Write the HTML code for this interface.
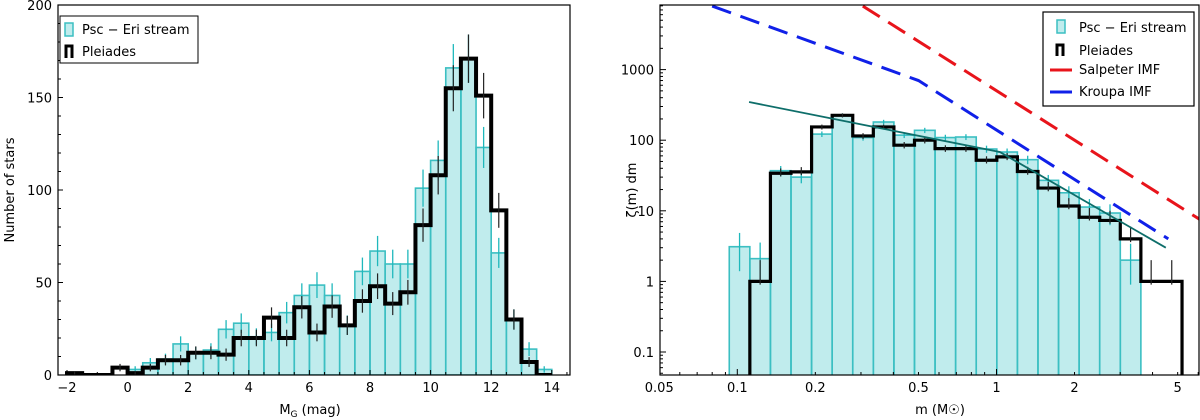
<!DOCTYPE html>
<html><head><meta charset="utf-8"><style>
html,body{margin:0;padding:0;background:#fff;width:1200px;height:420px;overflow:hidden}
svg text{font-family:"DejaVu Sans","Liberation Sans",sans-serif;fill:#000}
</style></head><body>
<svg id="c" width="1200" height="420" viewBox="0 0 1200 420" xmlns="http://www.w3.org/2000/svg">
<defs>
<clipPath id="clipL"><rect x="58" y="5" width="512" height="370"/></clipPath>
<clipPath id="clipR"><rect x="660" y="5" width="539" height="370"/></clipPath>
</defs>
<g id="left"></g>
<g id="right"></g>
</svg>
<script>
// ---- Left panel data ----
const magEdgesStart = -2, magBinWidth = 0.5;
const streamCounts = [0,0,0,0,3,6.6,8.6,16.8,11.8,13.5,24.7,28,20.7,23,33.7,43,48.6,43,27,56,67,60,60,101,116,166,171,123,66,30,14,3];
const streamStart = -2; // first stream bin edge (mag)
const pleiadesCounts = [1,0,0,4,1,4,8,8,12,12,11,20,20,31,20,36.6,23,37,26.8,40,48,38.6,44.7,81,108,155,171,151,89,30,7,0];
const pleiadesStart = -2;
const leftYTicks = [0,50,100,150,200];
const leftXTicks = [-2,0,2,4,6,8,10,12,14];

// ---- Right panel data ----
const massLogEdge0 = -1.031, massLogStep = 0.0794;
const streamZeta = [3.1,2.1,37,30,122,225,109,181,118,138,109,111,75,68,53,27,18,11.3,9.3,2.0];
const pleiadesZeta = [1.0,34,35.6,154,225,115,154,85,100,76,76,52,58,36,21,11.7,8.1,7.3,4.0,1.0,1.0]; // bins 1..21
const salpeterM = [0.305,6.1], salpeterV = [7940,7.5];
const kroupaM = [0.08,0.5,4.6], kroupaV = [7940,700,4.0];
const fitM = [0.111,1.03,4.5], fitV = [347,68,3.0];
const rightYTicks = [0.1,1,10,100,1000];
const rightXTicks = [0.05,0.1,0.2,0.5,1,2,5];

const NS="http://www.w3.org/2000/svg";
function mk(tag,attrs,parent){const e=document.createElementNS(NS,tag);for(const k in attrs)e.setAttribute(k,attrs[k]);parent.appendChild(e);return e;}
const CY="#3bbfc2", CYF="rgba(60,195,198,0.32)";

// ===== LEFT =====
const L=document.getElementById('left');
const lx=v=>127.6+v*30.3, ly=v=>375-v*1.85;
const lg=mk('g',{'clip-path':'url(#clipL)'},L);
streamCounts.forEach((v,i)=>{
  const x0=streamStart+i*magBinWidth; if(v<=0)return;
  const r=mk('rect',{x:lx(x0),y:ly(v),width:lx(x0+magBinWidth)-lx(x0),height:ly(0)-ly(v),fill:CYF,stroke:CY,'stroke-width':1.6},lg);
  
  
  const e=Math.sqrt(v), xc=lx(x0+magBinWidth/2);
  const l=mk('line',{x1:xc,x2:xc,y1:ly(v+e),y2:ly(Math.max(0,v-e)),stroke:'#1fb8bc','stroke-width':1.3},lg);
  
  
});
let d='';
pleiadesCounts.forEach((v,i)=>{
  const x0=pleiadesStart+i*magBinWidth, x1=x0+magBinWidth;
  d+=(i===0?`M${lx(x0)},${ly(0)} `:'')+`L${lx(x0)},${ly(v)} L${lx(x1)},${ly(v)} `;
});
d+=`L${lx(pleiadesStart+pleiadesCounts.length*magBinWidth)},${ly(0)}`;
const pstep=mk('path',{d:d,fill:'none',stroke:'#000','stroke-width':4,'stroke-linejoin':'miter'},lg);


pleiadesCounts.forEach((v,i)=>{
  if(v<=0)return; const xc=lx(pleiadesStart+(i+0.5)*magBinWidth), e=Math.sqrt(v);
  const l=mk('line',{x1:xc,x2:xc,y1:ly(v+e),y2:ly(Math.max(0,v-e)),stroke:'#222','stroke-width':1.2},lg);
  
  
});
mk('rect',{x:58,y:5,width:512,height:370,fill:'none',stroke:'#000','stroke-width':1.2},L);
leftYTicks.forEach(t=>{
  mk('line',{x1:58,x2:63,y1:ly(t),y2:ly(t),stroke:'#000'},L);
  const tx=mk('text',{x:52,y:ly(t)+5,'text-anchor':'end','font-size':13},L);tx.textContent=t;
  
  
});
for(let t=10;t<200;t+=10){if(t%50)mk('line',{x1:58,x2:61,y1:ly(t),y2:ly(t),stroke:'#000'},L);}
for(let t=-2;t<=14.5;t+=0.5){mk('line',{x1:lx(t),x2:lx(t),y1:375,y2:Number.isInteger(t/2)?370:372,stroke:'#000'},L);}
leftXTicks.forEach(t=>{
  const tx=mk('text',{x:lx(t),y:392,'text-anchor':'middle','font-size':13},L);tx.textContent=t<0?'−'+(-t):t;
  
  
});
let t1=mk('text',{x:310,y:414,'text-anchor':'middle','font-size':13},L);t1.innerHTML='M<tspan font-size="9" dy="3">G</tspan><tspan dy="-3"> (mag)</tspan>';

let t2=mk('text',{x:0,y:0,'text-anchor':'middle','font-size':13,transform:'translate(14,190) rotate(-90)'},L);t2.textContent='Number of stars';

// legend left
const LL=mk('g',{},L);
mk('rect',{x:60,y:16,width:138,height:47,fill:'#fff',stroke:'#000','stroke-width':1},LL);
mk('rect',{x:65,y:23,width:8,height:13,fill:CYF,stroke:CY,'stroke-width':1.5},LL);
let a=mk('text',{x:82,y:34,'font-size':13},LL);a.textContent='Psc − Eri stream';
mk('path',{d:'M66,58 L66,46 L72,46 L72,58',fill:'none',stroke:'#000','stroke-width':3},LL);
a=mk('text',{x:82,y:56,'font-size':13},LL);a.textContent='Pleiades';

// ===== RIGHT =====
const R=document.getElementById('right');
const rx=m=>737.3+(Math.log10(m)+1)*259.2, ry=v=>352-(Math.log10(v)+1)*70.6;
const rg=mk('g',{'clip-path':'url(#clipR)'},R);
const edge=i=>Math.pow(10,massLogEdge0+i*massLogStep);
streamZeta.forEach((v,i)=>{
  const r=mk('rect',{x:rx(edge(i)),y:ry(v),width:rx(edge(i+1))-rx(edge(i)),height:380-ry(v),fill:CYF,stroke:CY,'stroke-width':1.6},rg);
  
  
  const e=Math.sqrt(v), xc=(rx(edge(i))+rx(edge(i+1)))/2;
  const l=mk('line',{x1:xc,x2:xc,y1:ry(v+e),y2:ry(Math.max(v*0.45,v-e)),stroke:'#1fb8bc','stroke-width':1.3},rg);
  
  
});
d=`M${rx(edge(1))},380 `;
pleiadesZeta.forEach((v,k)=>{const i=k+1;d+=`L${rx(edge(i))},${ry(v)} L${rx(edge(i+1))},${ry(v)} `;});
d+=`L${rx(edge(pleiadesZeta.length+1))},380`;
const rstep=mk('path',{d:d,fill:'none',stroke:'#000','stroke-width':3.2},rg);


pleiadesZeta.forEach((v,k)=>{
  const i=k+1,xc=(rx(edge(i))+rx(edge(i+1)))/2,e=Math.sqrt(v);
  const l=mk('line',{x1:xc,x2:xc,y1:ry(v+e),y2:ry(Math.max(v*0.9,v-e)),stroke:'#222','stroke-width':1.2},rg);
  
  
});
function poly(ms,vs,attrs,name){
  const p=mk('polyline',Object.assign({points:ms.map((m,i)=>rx(m)+','+ry(vs[i])).join(' '),fill:'none'},attrs),rg);
  
  
}
poly(fitM,fitV,{stroke:'#0e6e6a','stroke-width':1.8},'fit-line');
poly(salpeterM,salpeterV,{stroke:'#e8141b','stroke-width':3,'stroke-dasharray':'20,10'},'salpeter-imf-line');
poly(kroupaM,kroupaV,{stroke:'#1020e8','stroke-width':3,'stroke-dasharray':'20,10'},'kroupa-imf-line');
mk('rect',{x:660,y:5,width:539,height:370,fill:'none',stroke:'#000','stroke-width':1.2},R);
rightYTicks.forEach(t=>{
  mk('line',{x1:660,x2:666,y1:ry(t),y2:ry(t),stroke:'#000'},R);
  const tx=mk('text',{x:654,y:ry(t)+5,'text-anchor':'end','font-size':13},R);tx.textContent=t;
  
  
});
for(let dec=-2;dec<4;dec++)for(let k=2;k<10;k++){const v=k*Math.pow(10,dec);const y=ry(v);if(y>5&&y<375)mk('line',{x1:660,x2:663,y1:y,y2:y,stroke:'#000'},R);}
for(let dec=-2;dec<1;dec++)for(let k=1;k<10;k++){const m=k*Math.pow(10,dec);const x=rx(m);if(x>660&&x<1199)mk('line',{x1:x,x2:x,y1:375,y2:k===1?369:372,stroke:'#000'},R);}
rightXTicks.forEach(t=>{
  const tx=mk('text',{x:rx(t),y:392,'text-anchor':'middle','font-size':13},R);tx.textContent=t;
  
  
});
t1=mk('text',{x:940,y:414,'text-anchor':'middle','font-size':13},R);t1.textContent='m (M☉)';

t2=mk('text',{x:0,y:0,'text-anchor':'middle','font-size':13,transform:'translate(636,190) rotate(-90)'},R);t2.textContent='ζ(m) dm';

const RL=mk('g',{},R);
mk('rect',{x:1043,y:12,width:151,height:94,fill:'#fff',stroke:'#000','stroke-width':1.2},RL);
mk('rect',{x:1057,y:20,width:8,height:13,fill:CYF,stroke:CY,'stroke-width':1.5},RL);
a=mk('text',{x:1079,y:32,'font-size':13},RL);a.textContent='Psc − Eri stream';
mk('path',{d:'M1057,56 L1057,45 L1063,45 L1063,56',fill:'none',stroke:'#000','stroke-width':3},RL);
a=mk('text',{x:1079,y:55,'font-size':13},RL);a.textContent='Pleiades';
mk('line',{x1:1050,x2:1072,y1:70,y2:70,stroke:'#e8141b','stroke-width':3},RL);
a=mk('text',{x:1079,y:74,'font-size':13},RL);a.textContent='Salpeter IMF';
mk('line',{x1:1050,x2:1072,y1:92,y2:92,stroke:'#1020e8','stroke-width':3},RL);
a=mk('text',{x:1079,y:96,'font-size':13},RL);a.textContent='Kroupa IMF';
</script>
</body></html>
